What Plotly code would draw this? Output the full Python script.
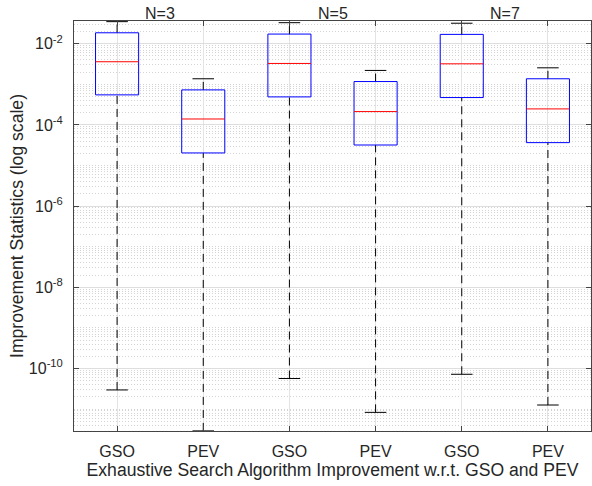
import plotly.graph_objects as go
import numpy as np

categories = ["GSO", "PEV", "GSO", "PEV", "GSO", "PEV"]
group_titles = ["N=3", "N=5", "N=7"]
# box statistics (values)
upper_whisker = [3.5e-2, 1.37e-3, 3.3e-2, 2.2e-3, 3.2e-2, 2.55e-3]
q3 = [1.86e-2, 7.3e-4, 1.73e-2, 1.17e-3, 1.70e-2, 1.37e-3]
median = [3.6e-3, 1.4e-4, 3.27e-3, 2.13e-4, 3.2e-3, 2.48e-4]
q1 = [5.5e-4, 2.04e-5, 4.9e-4, 3.2e-5, 4.72e-4, 3.66e-5]
lower_whisker = [2.96e-11, 2.9e-12, 5.66e-11, 8.3e-12, 7.2e-11, 1.26e-11]

BOX_W = 0.5
CAP_W = 0.25
DASH = "8px,5px"

fig = go.Figure()
for i in range(len(categories)):
    x = i + 1
    fig.add_trace(go.Scatter(x=[x, x], y=[q3[i], upper_whisker[i]], mode="lines",
                             line=dict(color="black", width=1, dash=DASH), showlegend=False, hoverinfo="skip"))
    fig.add_trace(go.Scatter(x=[x, x], y=[lower_whisker[i], q1[i]], mode="lines",
                             line=dict(color="black", width=1, dash=DASH), showlegend=False, hoverinfo="skip"))
    for v in (upper_whisker[i], lower_whisker[i]):
        fig.add_trace(go.Scatter(x=[x - CAP_W / 2, x + CAP_W / 2], y=[v, v], mode="lines",
                                 line=dict(color="black", width=1), showlegend=False, hoverinfo="skip"))
    fig.add_trace(go.Scatter(x=[x - BOX_W / 2, x + BOX_W / 2, x + BOX_W / 2, x - BOX_W / 2, x - BOX_W / 2],
                             y=[q1[i], q1[i], q3[i], q3[i], q1[i]], mode="lines",
                             line=dict(color="#0000ff", width=1), showlegend=False, hoverinfo="skip"))
    fig.add_trace(go.Scatter(x=[x - BOX_W / 2, x + BOX_W / 2], y=[median[i], median[i]], mode="lines",
                             line=dict(color="#ff0000", width=1), showlegend=False, hoverinfo="skip"))

major_vals = [10.0 ** k for k in range(-10, -1, 2)]
major_text = ["10<sup>%d</sup>" % k for k in range(-10, -1, 2)]
minor_vals = []
for k in range(-12, -1):
    for m in range(1, 10):
        v = m * 10.0 ** k
        if not (m == 1 and k % 2 == 0):
            minor_vals.append(v)

for j, t in enumerate(group_titles):
    fig.add_annotation(x=2 * j + 1.5, y=1.0, xref="x", yref="paper", text=t, showarrow=False,
                       yanchor="bottom", yshift=-3, font=dict(size=16, color="#262626"))

axis_common = dict(showline=True, linecolor="#444444", linewidth=1, mirror="ticks",
                   ticks="inside", tickcolor="#444444", ticklen=5, zeroline=False,
                   tickfont=dict(size=16, color="#262626"))

fig.update_xaxes(range=[0.5, 6.5], tickvals=list(range(1, 7)), ticktext=categories,
                 showgrid=True, gridcolor="#e3e3e3", gridwidth=1, ticklabelstandoff=6,
                 title=dict(text="Exhaustive Search Algorithm Improvement w.r.t. GSO and PEV",
                            font=dict(size=17.6, color="#262626"), standoff=1),
                 **axis_common)
fig.update_yaxes(type="log", range=[-11.54, -1.44], tickvals=major_vals, ticktext=major_text,
                 showgrid=True, gridcolor="#dedede", gridwidth=1, ticklabelstandoff=7,
                 minor=dict(tickvals=minor_vals, showgrid=True, gridcolor="#d4d4d4", griddash="1px,2px",
                            gridwidth=1, ticks=""),
                 title=dict(text="Improvement Statistics (log scale)", font=dict(size=17.6, color="#262626"),
                            standoff=0),
                 **axis_common)

fig.update_layout(width=592, height=486, margin=dict(l=74, r=1, t=21, b=55),
                  plot_bgcolor="white", paper_bgcolor="white",
                  font=dict(family="Liberation Sans, Arial, sans-serif", color="#262626"))

fig.write_html("out.html")
